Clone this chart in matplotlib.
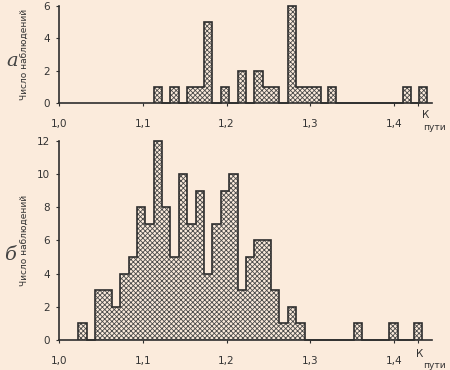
import matplotlib.pyplot as plt

# panel "а": bin centres and counts
a_centers = [1.118, 1.138, 1.158, 1.168, 1.178, 1.198, 1.218, 1.238, 1.248,
             1.258, 1.278, 1.288, 1.298, 1.308, 1.326, 1.415, 1.434]
a_counts = [1, 1, 1, 1, 5, 1, 2, 2, 1, 1, 6, 1, 1, 1, 1, 1, 1]

# panel "б"
b_centers = [1.028, 1.048, 1.058, 1.068, 1.078, 1.088, 1.098, 1.108, 1.118,
             1.128, 1.138, 1.148, 1.158, 1.168, 1.178, 1.188, 1.198, 1.208,
             1.218, 1.228, 1.238, 1.248, 1.258, 1.268, 1.278, 1.288,
             1.357, 1.399, 1.428]
b_counts = [1, 3, 3, 2, 4, 5, 8, 7, 12, 8, 5, 10, 7, 9, 4, 7, 9, 10, 3, 5,
            6, 6, 3, 1, 2, 1, 1, 1, 1]

x_ticks = [1.0, 1.1, 1.2, 1.3, 1.4]
x_labels = ['1,0', '1,1', '1,2', '1,3', '1,4']
k_pos = 1.428
width = 0.01

bg = '#fbebdc'
ink = '#2e2e2e'

plt.rcParams['font.family'] = ['Liberation Sans Narrow', 'DejaVu Sans']
plt.rcParams['hatch.linewidth'] = 0.6


def outline(ax, centers, counts):
    edges, vals = [], []
    for c, n in zip(centers, counts):
        l, r = c - width / 2, c + width / 2
        if not edges:
            edges.append(l)
        elif abs(edges[-1] - l) > 1e-4:
            vals.append(0)
            edges.append(l)
        else:
            edges[-1] = l
        vals.append(n)
        edges.append(r)
    ax.stairs(vals, edges, baseline=0, color=ink, lw=1.2, clip_on=False)


def panel(ax, centers, counts, yticks, letter, lx, ly):
    ax.set_facecolor(bg)
    ax.bar(centers, counts, width=width, color=bg, edgecolor='#4a4a4a',
           linewidth=0, hatch='xxxxxxx', clip_on=False)
    outline(ax, centers, counts)
    ax.set_xlim(1.0, 1.445)
    ax.set_ylim(0, yticks[-1])
    for s in ['top', 'right']:
        ax.spines[s].set_visible(False)
    for s in ['left', 'bottom']:
        ax.spines[s].set_color(ink)
        ax.spines[s].set_linewidth(1.2)
    ax.set_xticks(x_ticks + [k_pos])
    ax.set_xticklabels(x_labels + [''])
    ax.set_yticks(yticks)
    ax.tick_params(axis='both', colors=ink, labelcolor='#333333',
                   labelsize=7.5, length=2.5, width=0.8)
    ax.tick_params(axis='x', pad=9)
    ax.tick_params(axis='y', pad=4)
    ax.set_ylabel('Число наблюдений', fontsize=6.5, color='#333333')
    ax.yaxis.set_label_coords(-0.08, 0.5)
    fig.text(lx, ly, letter, fontsize=14, style='italic', family='serif',
             color='#444444', ha='center', va='center')


fig = plt.figure(figsize=(4.5, 3.7), dpi=100)
fig.patch.set_facecolor(bg)

ax1 = fig.add_axes([0.131, 0.7216, 0.829, 0.2622])
ax2 = fig.add_axes([0.131, 0.0811, 0.829, 0.5386])

panel(ax1, a_centers, a_counts, [0, 2, 4, 6], 'а', 0.027, 0.835)
panel(ax2, b_centers, b_counts, [0, 2, 4, 6, 8, 10, 12], 'б', 0.022, 0.31)

fig.text(0.945, 0.68, 'К', fontsize=7.5, color='#333333', ha='center')
fig.text(0.99, 0.65, 'пути', fontsize=6.5, color='#333333', ha='right')
fig.text(0.933, 0.035, 'К', fontsize=7.5, color='#333333', ha='center')
fig.text(0.99, 0.005, 'пути', fontsize=6.5, color='#333333', ha='right')

fig.savefig('out.png', dpi=100, facecolor=bg)
